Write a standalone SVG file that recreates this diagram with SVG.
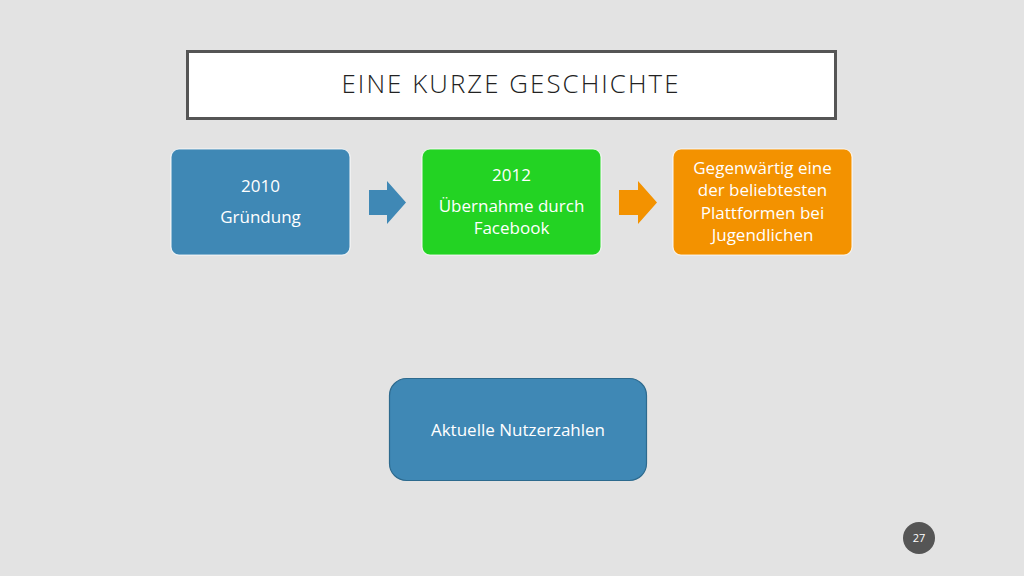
<svg xmlns="http://www.w3.org/2000/svg" width="1024" height="576" viewBox="0 0 1024 576">
<style>
.t{font-family:"Open Sans","Liberation Sans",sans-serif;font-size:17px;fill:#fff;text-anchor:middle}
.box{stroke:#fff;stroke-width:1.2;stroke-opacity:0.8}
</style>
<rect width="1024" height="576" fill="#e3e3e3"/>
<g id="title">
<rect x="187.5" y="51.5" width="648" height="67" fill="#fff" stroke="#555" stroke-width="3"/>
<text x="511" y="93" font-family="Open Sans,Liberation Sans,sans-serif" font-size="25" font-weight="300" fill="#222" text-anchor="middle" letter-spacing="2" textLength="339" lengthAdjust="spacingAndGlyphs">EINE KURZE GESCHICHTE</text>
</g>
<g id="node-2010">
<rect class="box" x="171" y="149" width="179" height="106" rx="8" fill="#3f88b5"/>
<text class="t" x="260.5" y="192">2010</text>
<text class="t" x="260.5" y="223">Gründung</text>
</g>
<g id="node-2012">
<rect class="box" x="422" y="149" width="179" height="106" rx="8" fill="#23d323"/>
<text class="t" x="511.5" y="181">2012</text>
<text class="t" x="511.5" y="212">Übernahme durch</text>
<text class="t" x="511.5" y="234">Facebook</text>
</g>
<g id="node-heute">
<rect class="box" x="673" y="149" width="179" height="106" rx="8" fill="#f39200"/>
<text class="t" x="762.5" y="174">Gegenwärtig eine</text>
<text class="t" x="762.5" y="196">der beliebtesten</text>
<text class="t" x="762.5" y="219">Plattformen bei</text>
<text class="t" x="762.5" y="241">Jugendlichen</text>
</g>
<g id="connectors">
<polygon points="369,190 387,190 387,181 406,202.5 387,224 387,215 369,215" fill="#3f88b5"/>
<polygon points="619,190 638,190 638,181 657,202.5 638,224 638,215 619,215" fill="#f39200"/>
</g>
<g id="node-nutzer">
<rect x="389.5" y="378.5" width="257" height="102" rx="17" fill="#3f88b5" stroke="#2d6a8e" stroke-width="1.2"/>
<text class="t" x="518" y="436">Aktuelle Nutzerzahlen</text>
</g>
<g id="page">
<circle cx="919" cy="538" r="16" fill="#555"/>
<text x="919" y="542" font-family="Open Sans,Liberation Sans,sans-serif" font-size="11" fill="#fff" text-anchor="middle">27</text>
</g>
</svg>
